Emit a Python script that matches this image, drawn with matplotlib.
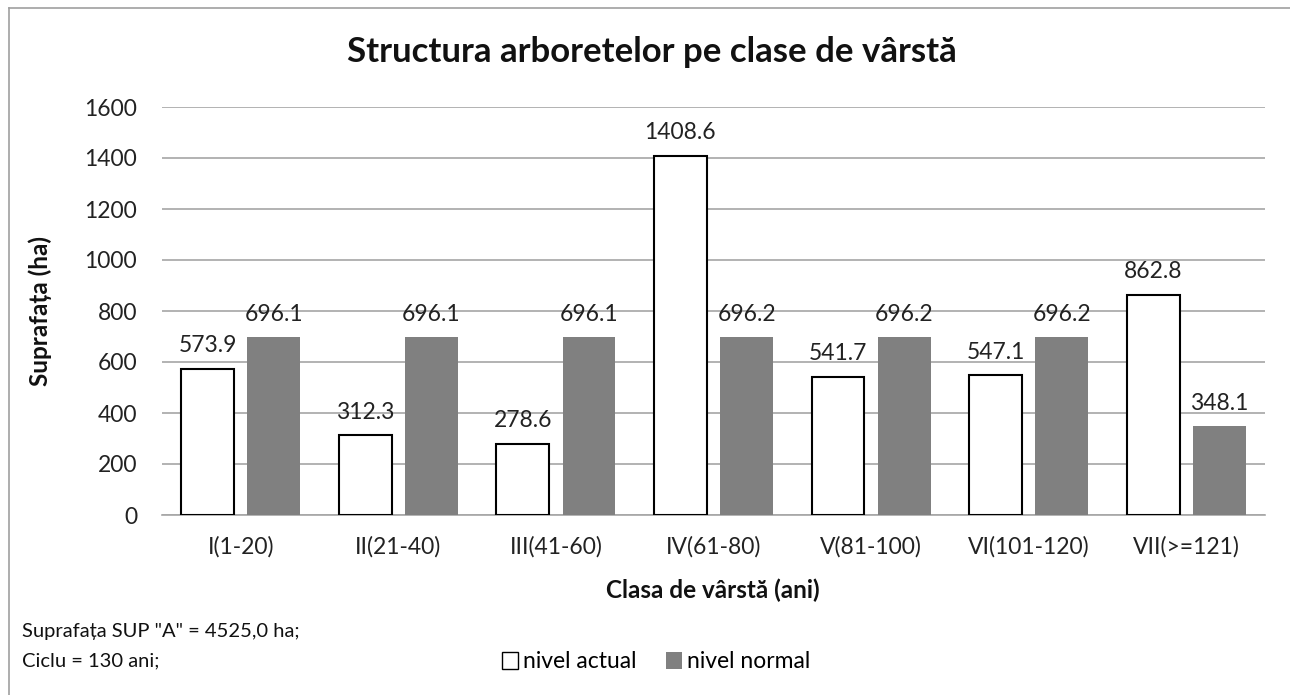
import matplotlib
matplotlib.use("Agg")
import matplotlib.pyplot as plt
import numpy as np
from matplotlib.patches import Patch

plt.rcParams['font.family'] = ['Lato', 'DejaVu Sans']

categories = ["I(1-20)", "II(21-40)", "III(41-60)", "IV(61-80)", "V(81-100)", "VI(101-120)", "VII(>=121)"]
nivel_actual = [573.9, 312.3, 278.6, 1408.6, 541.7, 547.1, 862.8]
nivel_normal = [696.1, 696.1, 696.1, 696.2, 696.2, 696.2, 348.1]
yticks = [0, 200, 400, 600, 800, 1000, 1200, 1400, 1600]

W, H = 1290, 695
fig = plt.figure(figsize=(W / 100, H / 100), dpi=100)
ax = fig.add_axes([162 / W, 1 - 515 / H, (1265 - 162) / W, (515 - 107) / H])

x = np.arange(len(categories))
bw = 0.335
off = 0.21
ax.bar(x - off, nivel_actual, bw, color="white", edgecolor="black", linewidth=1.5, zorder=3)
ax.bar(x + off, nivel_normal, bw, color="#808080", edgecolor="none", zorder=3)

for xi, v in zip(x, nivel_actual):
    ax.annotate(f"{v:.1f}", (xi - off, v), xytext=(0, 9), textcoords="offset points",
                ha="center", va="bottom", fontsize=16.5, color="#222222")
for xi, v in zip(x, nivel_normal):
    ax.annotate(f"{v:.1f}", (xi + off, v), xytext=(0, 9), textcoords="offset points",
                ha="center", va="bottom", fontsize=16.5, color="#222222")

ax.set_xlim(-0.5, len(categories) - 0.5)
ax.set_ylim(0, 1600)
ax.set_yticks(yticks)
ax.set_yticklabels([str(t) for t in yticks], fontsize=16.5, color="#222222")
ax.set_xticks(x)
ax.set_xticklabels(categories, fontsize=16.5, color="#222222")
ax.tick_params(axis="both", length=0)
ax.tick_params(axis="x", pad=15)
ax.tick_params(axis="y", pad=18)
ax.grid(axis="y", color="#a6a6a6", linewidth=1.2, zorder=0)
for s in ["top", "right", "left"]:
    ax.spines[s].set_visible(False)
ax.spines["bottom"].set_color("#a6a6a6")
ax.spines["bottom"].set_linewidth(1.2)

fig.text(40 / W, 1 - 311 / H, "Suprafața (ha)", rotation=90, ha="center", va="center",
         fontsize=17.5, fontweight="bold", color="#111111")
fig.text(713 / W, 1 - 590 / H, "Clasa de vârstă (ani)", ha="center", va="center",
         fontsize=17.5, fontweight="bold", color="#111111")
fig.text(652 / W, 1 - 52 / H, "Structura arboretelor pe clase de vârstă", ha="center", va="center",
         fontsize=25, fontweight="bold", color="#111111")
fig.text(22 / W, 1 - 632 / H, 'Suprafața SUP "A" = 4525,0 ha;', ha="left", va="center",
         fontsize=14.5, color="#111111")
fig.text(22 / W, 1 - 661 / H, "Ciclu = 130 ani;", ha="left", va="center",
         fontsize=14.5, color="#111111")

handles = [Patch(facecolor="white", edgecolor="black", linewidth=1.0, label="nivel actual"),
           Patch(facecolor="#808080", edgecolor="none", label="nivel normal")]
fig.legend(handles=handles, loc="center", bbox_to_anchor=(656 / W, 1 - 662 / H), ncol=2,
           frameon=False, fontsize=16.5, handlelength=0.7, handleheight=0.7,
           handletextpad=0.2, columnspacing=1.3)

# outer chart border (left and top visible)
fig.add_artist(plt.Line2D([9 / W, 9 / W], [0, 1 - 8 / H], color="#a0a0a0", linewidth=1.2,
                          transform=fig.transFigure))
fig.add_artist(plt.Line2D([9 / W, 1], [1 - 8 / H, 1 - 8 / H], color="#a0a0a0", linewidth=1.2,
                          transform=fig.transFigure))

fig.savefig("out.png", dpi=100)
